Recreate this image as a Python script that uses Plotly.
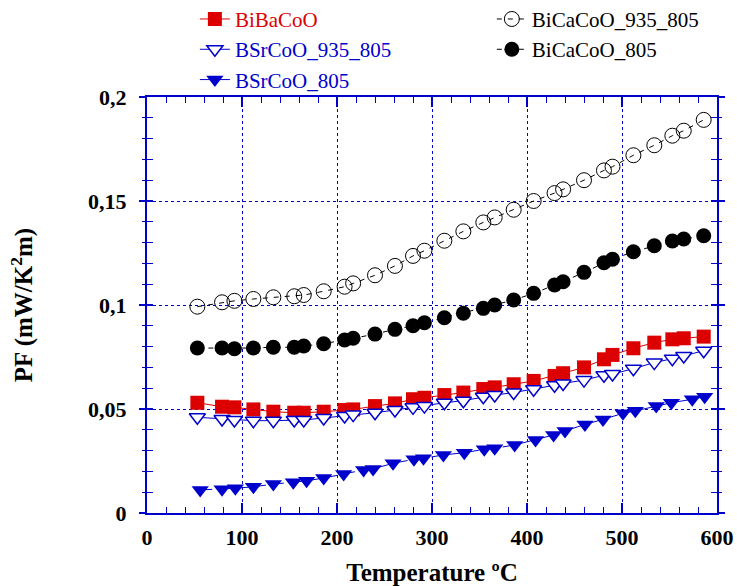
import plotly.graph_objects as go

# ---------------- data ----------------
temp_common = [53, 79, 92, 112, 133, 155, 165, 186, 208, 217, 240, 261, 280, 292, 313,
               333, 354, 366, 386, 407, 429, 438, 460, 481, 490, 512, 534, 553, 565, 586]

pf_bibacoo = [0.0530, 0.0511, 0.0508, 0.0498, 0.0487, 0.0482, 0.0482, 0.0487, 0.0495, 0.0498,
              0.0514, 0.0527, 0.0547, 0.0554, 0.0567, 0.0579, 0.0596, 0.0604, 0.0619, 0.0635,
              0.0659, 0.0672, 0.0700, 0.0739, 0.0760, 0.0792, 0.0819, 0.0835, 0.0840, 0.0848]

pf_bsrcoo_935 = [0.0460, 0.0452, 0.0447, 0.0444, 0.0444, 0.0447, 0.0447, 0.0457, 0.0466, 0.0473,
                 0.0482, 0.0495, 0.0508, 0.0514, 0.0530, 0.0540, 0.0559, 0.0567, 0.0579, 0.0595,
                 0.0614, 0.0623, 0.0639, 0.0662, 0.0668, 0.0694, 0.0723, 0.0742, 0.0755, 0.0780]

temp_bsrcoo_805 = [56, 79, 93, 112, 133, 154, 168, 186, 207, 228, 238, 259, 281, 291, 312,
                   334, 355, 366, 387, 409, 428, 440, 461, 480, 501, 514, 536, 552, 574, 587]
pf_bsrcoo_805 = [0.0111, 0.0114, 0.0119, 0.0126, 0.0139, 0.0148, 0.0155, 0.0168, 0.0187, 0.0207,
                 0.0212, 0.0239, 0.0258, 0.0263, 0.0279, 0.0290, 0.0306, 0.0311, 0.0327, 0.0351,
                 0.0375, 0.0394, 0.0426, 0.0450, 0.0479, 0.0491, 0.0514, 0.0530, 0.0547, 0.0559]

pf_bicacoo_935 = [0.0992, 0.1013, 0.1020, 0.1029, 0.1037, 0.1042, 0.1048, 0.1066, 0.1088, 0.1104,
                  0.1143, 0.1188, 0.1236, 0.1261, 0.1309, 0.1354, 0.1397, 0.1421, 0.1458, 0.1500,
                  0.1538, 0.1556, 0.1600, 0.1647, 0.1665, 0.1720, 0.1768, 0.1814, 0.1838, 0.1890]

pf_bicacoo_805 = [0.0793, 0.0793, 0.0790, 0.0793, 0.0797, 0.0797, 0.0803, 0.0814, 0.0832, 0.0840,
                  0.0860, 0.0883, 0.0900, 0.0915, 0.0939, 0.0960, 0.0984, 0.1000, 0.1024, 0.1056,
                  0.1096, 0.1112, 0.1157, 0.1203, 0.1220, 0.1256, 0.1285, 0.1308, 0.1317, 0.1333]

x_ticks = [0, 100, 200, 300, 400, 500, 600]
x_tick_labels = ["0", "100", "200", "300", "400", "500", "600"]
y_ticks = [0, 0.05, 0.1, 0.15, 0.2]
y_tick_labels = ["0", "0,05", "0,1", "0,15", "0,2"]

names = ["BiBaCoO", "BSrCoO_935_805", "BSrCoO_805", "BiCaCoO_935_805", "BiCaCoO_805"]

# ---------------- styles ----------------
RED = "#dd0000"
BLUE = "#0000cc"
BLACK = "#000000"
FONT = "Liberation Serif, Times New Roman, serif"


def label(name, color):
    return f"<span style='color:{color}'>{name}</span>"


def bold(texts):
    return [f"<b>{t}</b>" for t in texts]


fig = go.Figure()

fig.add_trace(go.Scatter(
    x=temp_common, y=pf_bibacoo, mode="lines+markers", name=label(names[0], RED),
    line=dict(color=RED, width=1),
    marker=dict(symbol="square", size=14, color=RED, line=dict(width=0)),
    legend="legend"))

fig.add_trace(go.Scatter(
    x=temp_common, y=pf_bsrcoo_935, mode="lines+markers", name=label(names[1], BLUE),
    line=dict(color=BLUE, width=1),
    marker=dict(symbol="triangle-down", size=14, color="white", line=dict(color=BLUE, width=1.5)),
    legend="legend"))

fig.add_trace(go.Scatter(
    x=temp_bsrcoo_805, y=pf_bsrcoo_805, mode="lines+markers", name=label(names[2], BLUE),
    line=dict(color=BLUE, width=1, dash="12px,6px"),
    marker=dict(symbol="triangle-down", size=15, color=BLUE, line=dict(width=0)),
    legend="legend"))

fig.add_trace(go.Scatter(
    x=temp_common, y=pf_bicacoo_935, mode="lines+markers", name=label(names[3], BLACK),
    line=dict(color=BLACK, width=1, dash="5px,6px"),
    marker=dict(symbol="circle-open", size=15, color=BLACK, line=dict(color=BLACK, width=1)),
    legend="legend2"))

fig.add_trace(go.Scatter(
    x=temp_common, y=pf_bicacoo_805, mode="lines+markers", name=label(names[4], BLACK),
    line=dict(color=BLACK, width=1, dash="5px,6px"),
    marker=dict(symbol="circle", size=15, color=BLACK, line=dict(width=0)),
    legend="legend2"))

# invisible trace to carry the overlay axis (outer half of crossing y ticks)
fig.add_trace(go.Scatter(x=[None], y=[None], yaxis="y2", showlegend=False, hoverinfo="skip"))

axis_common = dict(
    showline=True, linecolor=BLUE, linewidth=2, mirror="ticks",
    showgrid=True, gridcolor=BLUE, gridwidth=1.3, griddash="3px,3px",
    zeroline=False, ticks="inside", tickcolor=BLUE, tickwidth=1.5,
    tickfont=dict(family=FONT, size=22, color="black"),
)

fig.update_layout(
    width=737, height=586,
    margin=dict(l=147, r=20, t=97, b=73, autoexpand=False),
    paper_bgcolor="white", plot_bgcolor="white",
    font=dict(family=FONT, color="black"),
    xaxis=dict(
        **axis_common, range=[0, 600], tickvals=x_ticks, ticktext=bold(x_tick_labels),
        ticklen=10, ticklabelstandoff=4,
        minor=dict(dtick=20, ticklen=6, ticks="inside", tickcolor=BLUE, tickwidth=1.2, showgrid=False),
        title=dict(text="<b>Temperature ºC</b>", font=dict(family=FONT, size=25), standoff=14),
    ),
    yaxis=dict(
        **axis_common, range=[0, 0.2], tickvals=y_ticks, ticktext=bold(y_tick_labels),
        ticklen=6, ticklabelstandoff=14,
        minor=dict(dtick=0.01, ticklen=6, ticks="inside", tickcolor=BLUE, tickwidth=1.2, showgrid=False),
        title=dict(text="<b>PF (mW/K<sup>2</sup>m)</b>", font=dict(family=FONT, size=25), standoff=48),
    ),
    yaxis2=dict(
        overlaying="y", side="left", range=[0, 0.2], showgrid=False, zeroline=False,
        showline=False, mirror="ticks", ticks="outside", tickvals=y_ticks, ticklen=7,
        tickcolor=BLUE, tickwidth=1.5, showticklabels=False,
        minor=dict(dtick=0.01, ticklen=4, ticks="outside", tickcolor=BLUE, tickwidth=1.2),
    ),
    legend=dict(
        x=0.084, y=1.236, xanchor="left", yanchor="top", orientation="v",
        font=dict(family=FONT, size=21), bgcolor="rgba(0,0,0,0)", tracegroupgap=0,
    ),
    legend2=dict(
        x=0.605, y=1.236, xanchor="left", yanchor="top", orientation="v",
        font=dict(family=FONT, size=21), bgcolor="rgba(0,0,0,0)", tracegroupgap=0,
    ),
    showlegend=True,
)

fig.write_html("out.html")
